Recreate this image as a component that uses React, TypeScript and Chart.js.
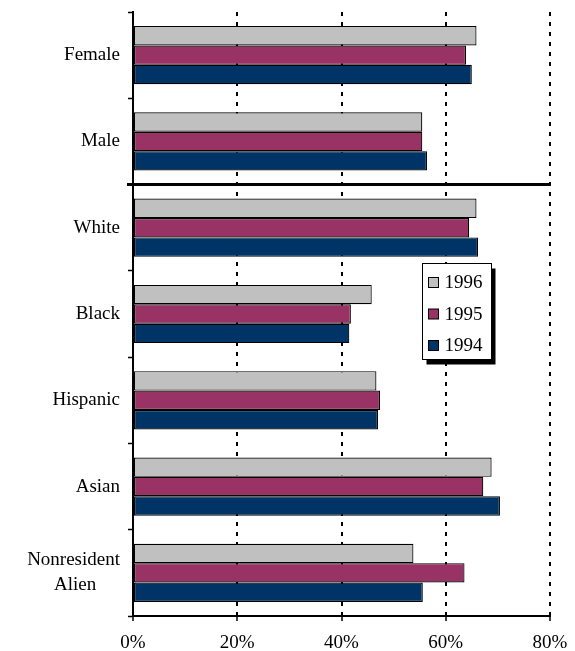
import React, { useEffect, useRef } from 'react';
import { Chart, registerables } from 'chart.js';

Chart.register(...registerables);

const categories: (string | string[])[] = [
  'Female',
  'Male',
  'White',
  'Black',
  'Hispanic',
  'Asian',
  ['Nonresident', 'Alien\u00A0\u00A0\u00A0\u00A0\u00A0'],
];
const seriesLabels = ['1996', '1995', '1994'];
const values1996 = [65.9, 55.5, 65.9, 45.8, 46.7, 68.8, 53.8];
const values1995 = [63.9, 55.5, 64.5, 41.8, 47.4, 67.2, 63.6];
const values1994 = [65.0, 56.4, 66.2, 41.5, 47.0, 70.4, 55.6];
const xTickValues = [0, 20, 40, 60, 80];
const seriesColors = ['#C0C0C0', '#993366', '#003366'];

const FONT_FAMILY = "'Liberation Serif', 'Times New Roman', serif";

const separatorPlugin = {
  id: 'separator',
  afterDatasetsDraw(chart: any) {
    const y = chart.scales.y;
    const { left, right } = chart.chartArea;
    const py = (y.getPixelForValue(1) + y.getPixelForValue(2)) / 2;
    const ctx = chart.ctx;
    ctx.save();
    ctx.strokeStyle = '#000';
    ctx.lineWidth = 3;
    ctx.beginPath();
    ctx.moveTo(left - 6, py);
    ctx.lineTo(right, py);
    ctx.stroke();
    ctx.restore();
  },
};

const boxLegendPlugin = {
  id: 'boxLegend',
  afterDraw(chart: any) {
    const { left, top, width, height } = chart.chartArea;
    const ctx = chart.ctx;
    const bx = Math.round(left + width * 0.692) + 0.5;
    const by = Math.round(top + height * 0.415) + 0.5;
    const bw = 69;
    const bh = 96;
    ctx.save();
    ctx.fillStyle = '#000';
    ctx.fillRect(bx + 4, by + 5, bw, bh);
    ctx.fillStyle = '#fff';
    ctx.fillRect(bx, by, bw, bh);
    ctx.strokeStyle = '#000';
    ctx.lineWidth = 1;
    ctx.strokeRect(bx, by, bw, bh);
    ctx.font = `19px ${FONT_FAMILY}`;
    ctx.textBaseline = 'middle';
    ctx.textAlign = 'left';
    chart.data.datasets.forEach((ds: any, i: number) => {
      const cy = by + 19 + i * 31.5;
      ctx.fillStyle = ds.backgroundColor;
      ctx.fillRect(bx + 6, cy - 5, 10, 10);
      ctx.strokeStyle = '#000';
      ctx.strokeRect(bx + 6, cy - 5, 10, 10);
      ctx.fillStyle = '#000';
      ctx.fillText(ds.label, bx + 22, cy + 1);
    });
    ctx.restore();
  },
};

export default function App() {
  const canvasRef = useRef<HTMLCanvasElement | null>(null);

  useEffect(() => {
    if (!canvasRef.current) return;
    const seriesValues = [values1996, values1995, values1994];
    const chart = new Chart(canvasRef.current, {
      type: 'bar',
      data: {
        labels: categories,
        datasets: seriesLabels.map((label, i) => ({
          label,
          data: seriesValues[i],
          backgroundColor: seriesColors[i],
          borderColor: '#000',
          borderWidth: 1.2,
          borderSkipped: false,
          barPercentage: 1,
          categoryPercentage: 0.675,
        })),
      },
      options: {
        indexAxis: 'y',
        responsive: false,
        animation: false,
        layout: { padding: { top: 12, right: 25, left: 0, bottom: 0 } },
        plugins: {
          legend: { display: false },
          tooltip: { enabled: false },
        },
        scales: {
          x: {
            min: 0,
            max: 80,
            afterFit: (scale: any) => {
              scale.height = 35;
              scale.paddingLeft = 0;
              scale.paddingRight = 0;
            },
            afterBuildTicks: (scale: any) => {
              scale.ticks = xTickValues.map((v) => ({ value: v }));
            },
            ticks: {
              color: '#000',
              padding: 11,
              maxRotation: 0,
              font: { family: FONT_FAMILY, size: 19 },
              callback: (v: any) => `${v}%`,
            },
            grid: {
              color: '#000',
              lineWidth: 2,
              tickLength: 5,
              tickColor: '#000',
              tickWidth: 1.5,
              tickBorderDash: [],
            },
            border: {
              display: true,
              color: '#000',
              width: 2,
              dash: [4, 6],
            },
          },
          y: {
            afterFit: (scale: any) => {
              scale.width = 133;
              scale.paddingTop = 0;
              scale.paddingBottom = 0;
            },
            ticks: {
              color: '#000',
              padding: 8,
              font: { family: FONT_FAMILY, size: 19, lineHeight: 1.3 },
            },
            grid: {
              offset: true,
              drawOnChartArea: false,
              drawTicks: true,
              tickLength: 5,
              tickColor: '#000',
              tickWidth: 1.5,
            },
            border: {
              display: true,
              color: '#000',
              width: 2,
            },
          },
        },
      },
      plugins: [separatorPlugin, boxLegendPlugin],
    } as any);
    return () => chart.destroy();
  }, []);

  return (
    <div style={{ position: 'fixed', left: 0, top: 0, width: 575, height: 651, background: '#fff' }}>
      <canvas ref={canvasRef} width={575} height={651} />
    </div>
  );
}
